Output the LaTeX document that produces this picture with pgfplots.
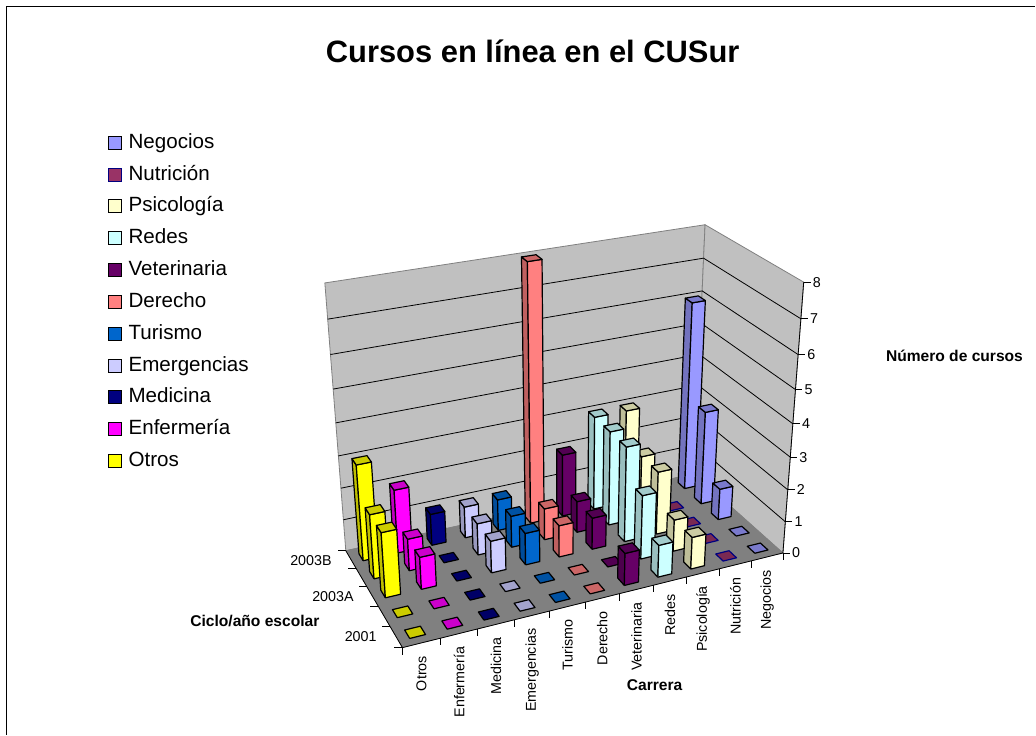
\documentclass[border=0pt]{standalone}
\usepackage{fontspec}
\setmainfont{Liberation Sans}
\usepackage{pgfplots}
\pgfplotsset{compat=1.18}

% series colours: fill and outline
\definecolor{neg}{HTML}{9999FF}\colorlet{nege}{black}
\definecolor{nut}{HTML}{993366}\definecolor{nute}{HTML}{000080}
\definecolor{psi}{HTML}{FFFFCC}\colorlet{psie}{black}
\definecolor{red}{HTML}{CCFFFF}\colorlet{rede}{black}
\definecolor{vet}{HTML}{660066}\colorlet{vete}{black}
\definecolor{der}{HTML}{FF8080}\colorlet{dere}{black}
\definecolor{tur}{HTML}{0066CC}\colorlet{ture}{black}
\definecolor{eme}{HTML}{CCCCFF}\colorlet{emee}{black}
\definecolor{med}{HTML}{000080}\colorlet{mede}{black}
\definecolor{enf}{HTML}{FF00FF}\colorlet{enfe}{black}
\definecolor{otr}{HTML}{FFFF00}\colorlet{otre}{black}
\definecolor{wall}{HTML}{C0C0C0}
\definecolor{flr}{HTML}{808080}

% perspective of the box: u along carrera, v along ciclo, w up (all 0..1), result in pixels
\newcommand{\setpt}[4]{%
  \pgfmathsetmacro{\pdn}{1+.107*(#2)+.1196*(#3)-.097*(#4)}%
  \pgfmathsetmacro{\tmpx}{(402.7+464.5*(#2)-15.32*(#3)-55*(#4))/\pdn}%
  \pgfmathsetmacro{\tmpy}{(648-35.5*(#2)-31.1*(#3)-327.4*(#4))/\pdn}%
  \expandafter\edef\csname #1\endcsname{(\tmpx,\tmpy)}}
\newcommand{\plotpts}[2]{\addplot[forget plot, mark=none, #2] coordinates {#1};}
\newcommand{\poly}[2]{\edef\tmpc{#2}\expandafter\plotpts\expandafter{\tmpc}{#1}}

% one bar: row (0 = 2001), column (0 = Otros), value, series
\newcommand{\cub}[4]{%
  \pgfmathsetmacro{\ua}{(#2+.29)/11}\pgfmathsetmacro{\ub}{(#2+.71)/11}%
  \pgfmathsetmacro{\va}{(#1+.3)/5}\pgfmathsetmacro{\vb}{(#1+.7)/5}%
  \pgfmathsetmacro{\wt}{#3/8}%
  \setpt{pa}{\ua}{\va}{0}\setpt{pb}{\ub}{\va}{0}\setpt{pc}{\ua}{\vb}{0}%
  \setpt{qa}{\ua}{\va}{\wt}\setpt{qb}{\ub}{\va}{\wt}\setpt{qc}{\ua}{\vb}{\wt}\setpt{qd}{\ub}{\vb}{\wt}%
  \ifnum#3>0
    \poly{fill=#4!75!black, draw=#4e, line width=1.2pt, line join=round}{\pa\pc\qc\qa\pa}%
    \poly{fill=#4, draw=#4e, line width=1.2pt, line join=round}{\pa\pb\qb\qa\pa}%
  \fi
  \poly{fill=#4!80!black, draw=#4e, line width=1.2pt, line join=round}{\qa\qb\qd\qc\qa}}

\newcommand{\gridl}[1]{%
  \setpt{ga}{0}{1}{#1/8}\setpt{gb}{1}{1}{#1/8}\setpt{gc}{1}{0}{#1/8}%
  \poly{black, line width=.8pt}{\ga\gb\gc}}
\newcommand{\ztick}[1]{%
  \setpt{ga}{1}{0}{#1/8}\pgfmathsetmacro{\tx}{\tmpx+7}%
  \poly{black, line width=.8pt}{\ga(\tx,\tmpy)}%
  \edef\tmpn{\noexpand\node[tl, anchor=west] at (axis cs:\tx+2,\tmpy) {#1};}\tmpn}
\newcommand{\xtick}[1]{%
  \setpt{ga}{#1/11}{0}{0}\pgfmathsetmacro{\ty}{\tmpy+7}%
  \poly{black, line width=.8pt}{\ga(\tmpx,\ty)}}
\newcommand{\ytick}[1]{%
  \setpt{ga}{0}{#1/5}{0}\pgfmathsetmacro{\tx}{\tmpx-8}%
  \poly{black, line width=.8pt}{\ga(\tx,\tmpy)}}
\newcommand{\xlab}[2]{%
  \setpt{ga}{(#1+.5)/11}{0}{0}\pgfmathsetmacro{\ty}{\tmpy+13}%
  \edef\tmpn{\noexpand\node[tl, rotate=90, anchor=east] at (axis cs:\tmpx,\ty) {#2};}\tmpn}

\tikzset{tl/.style={font=\fontsize{14.3}{16}\selectfont, inner sep=0pt},
  axt/.style={font=\fontsize{15.6}{18}\selectfont\bfseries, inner sep=0pt}}

\begin{document}
\begin{tikzpicture}
\begin{axis}[
    width=1036pt, height=735pt, scale only axis,
    xmin=0, xmax=1036, ymin=0, ymax=735, y dir=reverse,
    hide axis, clip=false,
    legend style={at={(axis cs:108,127.3)}, anchor=north west, draw=none, fill=none,
      inner sep=0pt, outer sep=0pt, row sep=0pt,
      nodes={font=\fontsize{20.6}{24}\selectfont, text height=21pt, text depth=10.85pt, inner sep=0pt, anchor=west}},
    legend cell align=left,
    legend image code/.code={\draw[#1, line width=.9pt] (0pt,-6pt) rectangle (13pt,7pt);\path (20pt,0pt);},
]
% page corners
\addplot[forget plot, draw=none, mark=none] coordinates {(0,0) (1036,735)};
% chart area border, left and top only
\addplot[forget plot, mark=none, black, line width=1.2pt] coordinates {(6.5,735) (6.5,6.5) (1036,6.5)};

% walls and floor
\setpt{ca}{0}{0}{0}\setpt{cc}{1}{0}{0}\setpt{cb}{0}{1}{0}\setpt{cd}{1}{1}{0}
\setpt{ce}{0}{1}{1}\setpt{cf}{1}{1}{1}\setpt{cg}{1}{0}{1}
\poly{fill=wall, draw=flr, line width=.8pt}{\cb\cd\cf\ce\cb}
\poly{fill=wall, draw=flr, line width=.8pt}{\cd\cc\cg\cf\cd}
\poly{fill=flr, draw=flr}{\ca\cc\cd\cb\ca}
\gridl{1}\gridl{2}\gridl{3}\gridl{4}\gridl{5}\gridl{6}\gridl{7}
\poly{black, line width=.8pt}{\cb\ca\cc\cg}

\ztick{0}\ztick{1}\ztick{2}\ztick{3}\ztick{4}\ztick{5}\ztick{6}\ztick{7}\ztick{8}
\xtick{0}\xtick{1}\xtick{2}\xtick{3}\xtick{4}\xtick{5}\xtick{6}\xtick{7}\xtick{8}\xtick{9}\xtick{10}\xtick{11}
\ytick{0}\ytick{1}\ytick{2}\ytick{3}\ytick{4}\ytick{5}

% bars, back to front and right to left
% 2003B
\cub{4}{10}{6}{neg}\cub{4}{9}{0}{nut}\cub{4}{8}{3}{psi}\cub{4}{7}{3}{red}\cub{4}{6}{2}{vet}\cub{4}{5}{8}{der}
\cub{4}{4}{1}{tur}\cub{4}{3}{1}{eme}\cub{4}{2}{1}{med}\cub{4}{1}{2}{enf}\cub{4}{0}{3}{otr}
% row 4
\cub{3}{10}{3}{neg}\cub{3}{9}{0}{nut}\cub{3}{8}{2}{psi}\cub{3}{7}{3}{red}\cub{3}{6}{1}{vet}\cub{3}{5}{1}{der}
\cub{3}{4}{1}{tur}\cub{3}{3}{1}{eme}\cub{3}{2}{0}{med}\cub{3}{1}{1}{enf}\cub{3}{0}{2}{otr}
% 2003A
\cub{2}{10}{1}{neg}\cub{2}{9}{0}{nut}\cub{2}{8}{2}{psi}\cub{2}{7}{3}{red}\cub{2}{6}{1}{vet}\cub{2}{5}{1}{der}
\cub{2}{4}{1}{tur}\cub{2}{3}{1}{eme}\cub{2}{2}{0}{med}\cub{2}{1}{1}{enf}\cub{2}{0}{2}{otr}
% row 2
\cub{1}{10}{0}{neg}\cub{1}{9}{0}{nut}\cub{1}{8}{1}{psi}\cub{1}{7}{2}{red}\cub{1}{6}{0}{vet}\cub{1}{5}{0}{der}
\cub{1}{4}{0}{tur}\cub{1}{3}{0}{eme}\cub{1}{2}{0}{med}\cub{1}{1}{0}{enf}\cub{1}{0}{0}{otr}
% 2001
\cub{0}{10}{0}{neg}\cub{0}{9}{0}{nut}\cub{0}{8}{1}{psi}\cub{0}{7}{1}{red}\cub{0}{6}{1}{vet}\cub{0}{5}{0}{der}
\cub{0}{4}{0}{tur}\cub{0}{3}{0}{eme}\cub{0}{2}{0}{med}\cub{0}{1}{0}{enf}\cub{0}{0}{0}{otr}

% legend
\addlegendimage{fill=neg, draw=nege}\addlegendentry{Negocios}
\addlegendimage{fill=nut, draw=nute}\addlegendentry{Nutrición}
\addlegendimage{fill=psi, draw=psie}\addlegendentry{Psicología}
\addlegendimage{fill=red, draw=rede}\addlegendentry{Redes}
\addlegendimage{fill=vet, draw=vete}\addlegendentry{Veterinaria}
\addlegendimage{fill=der, draw=dere}\addlegendentry{Derecho}
\addlegendimage{fill=tur, draw=ture}\addlegendentry{Turismo}
\addlegendimage{fill=eme, draw=emee}\addlegendentry{Emergencias}
\addlegendimage{fill=med, draw=mede}\addlegendentry{Medicina}
\addlegendimage{fill=enf, draw=enfe}\addlegendentry{Enfermería}
\addlegendimage{fill=otr, draw=otre}\addlegendentry{Otros}

% texts
\xlab{0}{Otros}\xlab{1}{Enfermería}\xlab{2}{Medicina}\xlab{3}{Emergencias}\xlab{4}{Turismo}\xlab{5}{Derecho}
\xlab{6}{Veterinaria}\xlab{7}{Redes}\xlab{8}{Psicología}\xlab{9}{Nutrición}\xlab{10}{Negocios}
\node[tl, anchor=east] at (axis cs:332,561) {2003B};
\node[tl, anchor=east] at (axis cs:354,597) {2003A};
\node[tl, anchor=east] at (axis cs:377,637) {2001};
\node[font=\fontsize{30.9}{36}\selectfont\bfseries, inner sep=0pt] at (axis cs:533,51) {Cursos en línea en el CUSur};
\node[axt] at (axis cs:955,356) {Número de cursos};
\node[axt] at (axis cs:655,686) {Carrera};
\node[axt] at (axis cs:255,621) {Ciclo/año escolar};
\end{axis}
\end{tikzpicture}
\end{document}
